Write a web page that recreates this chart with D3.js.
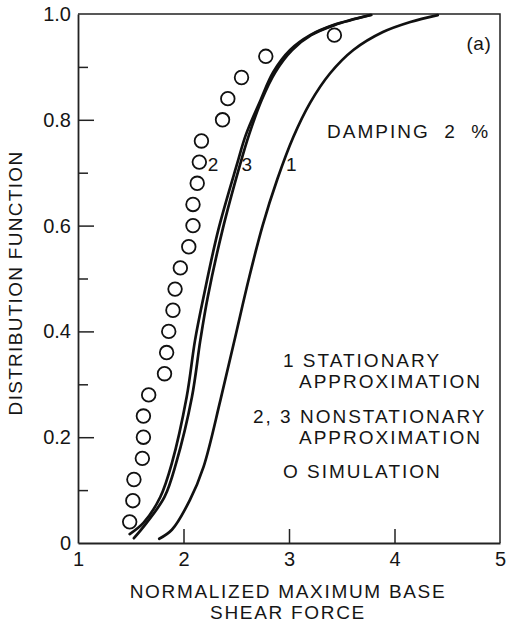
<!DOCTYPE html>
<html>
<head>
<meta charset="utf-8">
<script src="https://cdn.jsdelivr.net/npm/d3@7"></script>
<style>
  body { margin: 0; background: #fff; }
  svg { display: block; }
  text { font-family: "Liberation Sans", Arial, sans-serif; fill: #151515; }
  .tick text { font-size: 20px; }
  .axis-label { font-size: 19px; letter-spacing: 1.7px; }
  .note { font-size: 19px; letter-spacing: 2px; }
</style>
</head>
<body>
<div id="chart"></div>
<script>
// simulation points (normalized max base shear, distribution value)
const simX = [1.49, 1.52, 1.53, 1.61, 1.62, 1.62, 1.67, 1.82, 1.84, 1.86, 1.90, 1.92,
              1.97, 2.05, 2.09, 2.09, 2.13, 2.15, 2.17, 2.37, 2.42, 2.55, 2.78, 3.43]
const simY = [0.04, 0.08, 0.12, 0.16, 0.20, 0.24, 0.28, 0.32, 0.36, 0.40, 0.44, 0.48,
              0.52, 0.56, 0.60, 0.64, 0.68, 0.72, 0.76, 0.80, 0.84, 0.88, 0.92, 0.96]

// curve 1: stationary approximation
const c1X = [1.77, 1.89, 2.06, 2.19, 2.35, 2.49, 2.62, 2.75, 2.89, 3.04, 3.20, 3.39, 3.61, 3.89, 4.15, 4.41]
const c1Y = [0.008, 0.025, 0.081, 0.144, 0.270, 0.389, 0.500, 0.600, 0.688, 0.767, 0.832, 0.888, 0.932, 0.966, 0.985, 0.998]

// curves 2, 3: nonstationary approximation
const c2X = [1.49, 1.62, 1.78, 1.89, 2.03, 2.11, 2.19, 2.33, 2.51, 2.59, 2.73, 2.85, 3.01, 3.20, 3.42, 3.77]
const c2Y = [0.017, 0.038, 0.087, 0.151, 0.276, 0.384, 0.465, 0.592, 0.718, 0.771, 0.837, 0.890, 0.932, 0.960, 0.979, 0.998]
const c3X = [1.53, 1.65, 1.82, 1.93, 2.08, 2.16, 2.23, 2.37, 2.54, 2.62, 2.74, 2.87, 3.03, 3.21, 3.43, 3.78]
const c3Y = [0.009, 0.038, 0.087, 0.151, 0.276, 0.384, 0.465, 0.592, 0.718, 0.771, 0.837, 0.890, 0.932, 0.960, 0.979, 0.998]

const xTicks = [1, 2, 3, 4, 5]
const yTicks = [0, 0.2, 0.4, 0.6, 0.8, 1.0]
const yMinor = [0.1, 0.3, 0.5, 0.7, 0.9]
const yTickLabels = ['0', '0.2', '0.4', '0.6', '0.8', '1.0']

const W = 509, H = 626
const svg = d3.select('#chart').append('svg').attr('width', W).attr('height', H)

const x = d3.scaleLinear().domain([1, 5]).range([78, 500])
const y = d3.scaleLinear().domain([0, 1]).range([543, 14])

// frame
svg.append('path')
  .attr('d', `M${x(1)},${y(1)}H${x(5)}V${y(0)}`)
  .attr('fill', 'none').attr('stroke', '#222').attr('stroke-width', 1.5)

const xAxis = svg.append('g')
  .attr('transform', `translate(0,${y(0)})`)
  .call(d3.axisBottom(x).tickValues(xTicks).tickSizeInner(-14).tickSizeOuter(0)
    .tickPadding(9).tickFormat(d3.format('d')))
xAxis.select('.domain').attr('stroke', '#222').attr('stroke-width', 1.8)
xAxis.selectAll('.tick line').attr('stroke', '#222').attr('stroke-width', 1.5)
  .filter(d => d === 1 || d === 5).remove()

const yAxis = svg.append('g')
  .attr('transform', `translate(${x(1)},0)`)
  .call(d3.axisLeft(y).tickValues(yTicks).tickSizeInner(-16).tickSizeOuter(0)
    .tickPadding(7).tickFormat((d, i) => yTickLabels[i]))
yAxis.select('.domain').attr('stroke', '#222').attr('stroke-width', 1.8)
yAxis.selectAll('.tick line').attr('stroke', '#222').attr('stroke-width', 1.5)
  .filter(d => d === 0 || d === 1).remove()

const yMinorAxis = svg.append('g')
  .attr('transform', `translate(${x(1)},0)`)
  .call(d3.axisLeft(y).tickValues(yMinor).tickSizeInner(-10).tickSizeOuter(0).tickFormat(''))
yMinorAxis.select('.domain').remove()
yMinorAxis.selectAll('.tick line').attr('stroke', '#222').attr('stroke-width', 1.5)

// curves
const line = d3.line().x(d => x(d[0])).y(d => y(d[1])).curve(d3.curveCatmullRom.alpha(0.5))
const curves = [[c1X, c1Y], [c2X, c2Y], [c3X, c3Y]]
svg.append('g').selectAll('path')
  .data(curves)
  .join('path')
  .attr('d', ([xs, ys]) => line(xs.map((v, i) => [v, ys[i]])))
  .attr('fill', 'none').attr('stroke', '#111').attr('stroke-width', 2.7)
  .attr('stroke-linecap', 'round')

// simulation circles
svg.append('g').selectAll('circle')
  .data(simX.map((v, i) => [v, simY[i]]))
  .join('circle')
  .attr('cx', d => x(d[0])).attr('cy', d => y(d[1])).attr('r', 6.8)
  .attr('fill', '#fff').attr('stroke', '#111').attr('stroke-width', 1.8)

// curve numbers
const curveLabels = [['2', 2.29, 0.715], ['3', 2.61, 0.715], ['1', 3.03, 0.715]]
svg.append('g').selectAll('text')
  .data(curveLabels)
  .join('text')
  .attr('class', 'note')
  .attr('x', d => x(d[1])).attr('y', d => y(d[2]))
  .attr('dy', '0.35em').attr('text-anchor', 'middle')
  .text(d => d[0])

svg.append('text').attr('class', 'note')
  .attr('x', x(4.8)).attr('y', y(0.945)).attr('text-anchor', 'middle').attr('dy', '0.35em')
  .style('letter-spacing', '0.5px')
  .text('(a)')

svg.append('text').attr('class', 'note')
  .attr('x', 327).attr('y', 138).attr('xml:space', 'preserve')
  .text('DAMPING  2  %')

// legend block
const legend = [
  ['1 STATIONARY', 283, 367],
  ['APPROXIMATION', 299, 388],
  ['2, 3 NONSTATIONARY', 253, 423],
  ['APPROXIMATION', 299, 444],
  ['O SIMULATION', 283, 478]
]
svg.append('g').selectAll('text')
  .data(legend)
  .join('text')
  .attr('class', 'note')
  .attr('x', d => d[1]).attr('y', d => d[2])
  .text(d => d[0])

// axis titles
svg.append('text').attr('class', 'axis-label')
  .attr('x', 288).attr('y', 598).attr('text-anchor', 'middle')
  .text('NORMALIZED MAXIMUM BASE')
svg.append('text').attr('class', 'axis-label')
  .attr('x', 288).attr('y', 619).attr('text-anchor', 'middle')
  .text('SHEAR FORCE')
svg.append('text').attr('class', 'axis-label')
  .style('letter-spacing', '1.3px')
  .attr('transform', `translate(22,${283}) rotate(-90)`)
  .attr('text-anchor', 'middle')
  .text('DISTRIBUTION FUNCTION')
</script>
</body>
</html>
